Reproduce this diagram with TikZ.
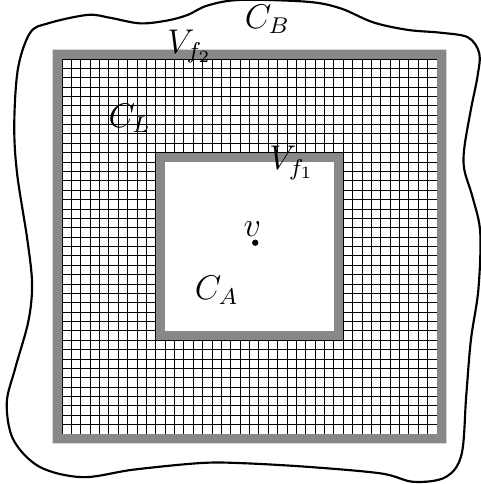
\documentclass[tikz,border=0pt]{standalone}
\usepackage{amsmath}
\usepackage{xcolor}

\definecolor{bandgray}{RGB}{136,136,136}

\begin{document}
\begin{tikzpicture}[
  x=0.1153cm, y=0.1153cm,
  font=\large,
  mesh/.style={draw=black, line width=0.35pt},
  band/.style={fill=bandgray},
  hole/.style={fill=white},
  border/.style={draw=black, line width=0.75pt},
  lbl/.style={inner sep=0pt},
  dot/.style={circle, fill=black, inner sep=0pt, minimum size=2.2pt}
]
\useasboundingbox (-6.62,-5.33) rectangle (44.66,46.29);

% outer curve C_B
\draw[border] plot[smooth cycle, tension=0.55] coordinates {
  (19.0,46.3) (26.2,46.1) (29.7,45.4) (33.2,43.9) (36.9,43.1) (40.4,42.8)
  (43.3,42.3) (44.5,40.6) (44.3,38.1) (43.6,34.6) (42.9,30.5) (42.9,28.2)
  (43.8,25.2) (44.6,21.5) (44.4,15.4) (43.6,10.0) (43.1,4.0) (42.6,-2.2)
  (40.9,-4.6) (37.5,-5.1) (34.0,-4.2) (26.2,-3.5) (19.0,-3.1) (14.7,-3.1)
  (7.6,-3.8) (2.2,-4.6) (-2.4,-3.5) (-5.2,-0.6) (-5.9,3.3) (-5.0,7.0)
  (-3.6,12.0) (-3.2,16.0) (-3.7,20.7) (-4.8,27.8) (-5.1,33.0) (-4.7,39.0)
  (-3.4,42.8) (-1.5,43.8) (2.7,44.7) (5.1,44.4) (8.3,43.8) (11.2,44.1)
  (13.4,44.7) (15.5,45.7)
};

% mesh and the two bands
\draw[mesh, step=1] (0,0) grid (40,40);
\fill[band, even odd rule] (-1,-1) rectangle (41,41) (0,0) rectangle (40,40);
\fill[band] (10,10) rectangle (30,30);
\fill[hole] (11,11) rectangle (29,29);

% labels
\node[lbl] (cb) at (21.9,44.2) {$C_B$};
\node[lbl] (vf2) at (13.6,41.3) {$V_{f_2}$};
\node[lbl] (cl) at (7.2,33.7) {$C_L$};
\node[lbl] (vf1) at (24.5,28.9) {$V_{f_1}$};
\node[dot] (vdot) at (20.6,20.4) {};
\node[lbl] (vname) at (20.3,21.9) {$v$};
\node[lbl] (ca) at (16.5,15.3) {$C_A$};

\end{tikzpicture}
\end{document}
